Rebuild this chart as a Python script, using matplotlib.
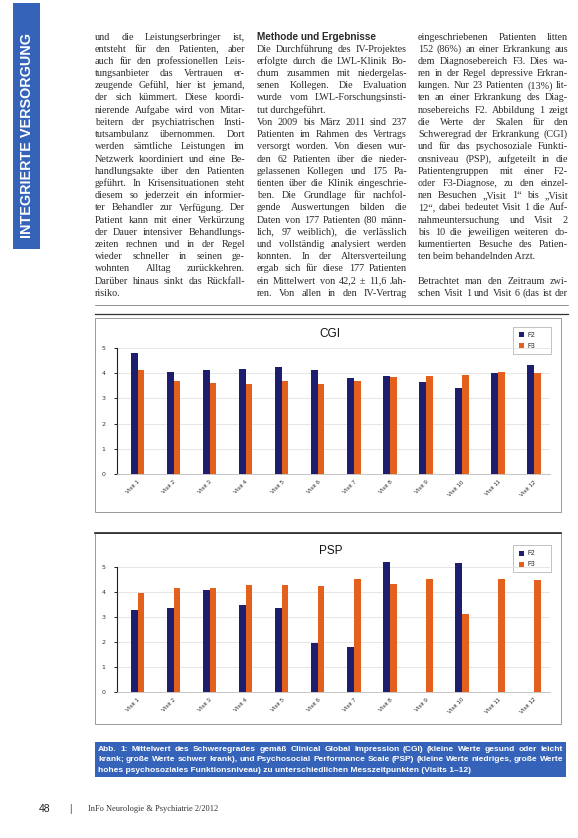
"""
Magazinseite: CGI / PSP Mittelwerte je Visit (F2 vs. F3)
"""

import matplotlib.pyplot as plt
from matplotlib.patches import Rectangle
from matplotlib.font_manager import FontProperties
import numpy as np

# Daten
visits = ['Visit 1', 'Visit 2', 'Visit 3', 'Visit 4', 'Visit 5', 'Visit 6',
          'Visit 7', 'Visit 8', 'Visit 9', 'Visit 10', 'Visit 11', 'Visit 12']
cgi_f2 = [4.81, 4.05, 4.11, 4.17, 4.25, 4.11, 3.80, 3.89, 3.64, 3.40, 4.01, 4.31]
cgi_f3 = [4.13, 3.70, 3.62, 3.56, 3.69, 3.58, 3.70, 3.84, 3.90, 3.94, 4.05, 4.02]
psp_f2 = [3.27, 3.33, 4.05, 3.45, 3.35, 1.96, 1.80, 5.19, np.nan, 5.13, np.nan, np.nan]
psp_f3 = [3.93, 4.13, 4.16, 4.27, 4.27, 4.24, 4.49, 4.29, 4.49, 3.09, 4.49, 4.47]
groups = ['F2', 'F3']

navy = '#1d1f6e'
orange = '#e4601d'
blue = '#3563b9'
ink = '#2a2a2a'
serif = ['Liberation Serif', 'DejaVu Serif']
sans = ['Liberation Sans', 'DejaVu Sans']

W, H = 578, 838
fig = plt.figure(figsize=(W / 100, H / 100), dpi=100)
page = fig.add_axes([0, 0, 1, 1])
page.set_xlim(0, W)
page.set_ylim(H, 0)
page.axis('off')
renderer = fig.canvas.get_renderer()


def px_axes(x0, y0, x1, y1):
    return fig.add_axes([x0 / W, 1 - y1 / H, (x1 - x0) / W, (y1 - y0) / H])


def text_width(s, fp):
    w, h, d = renderer.get_text_width_height_descent(s, fp, ismath=False)
    return w


def justified(x0, y, line, width, fp, color, justify=True):
    words = line.split(' ')
    if not justify or len(words) < 2:
        page.text(x0, y, line, fontproperties=fp, va='center', color=color)
        return
    widths = [text_width(w, fp) for w in words]
    gap = (width - sum(widths)) / (len(words) - 1)
    x = x0
    for w, wd in zip(words, widths):
        page.text(x, y, w, fontproperties=fp, va='center', color=color)
        x += wd + gap


# Seitenleiste
page.add_patch(Rectangle((13, 3), 27, 246, facecolor=blue, edgecolor='none'))
page.text(27, 136, 'INTEGRIERTE VERSORGUNG', rotation=90, ha='center', va='center',
          color='white', fontsize=10.4, weight='bold', family=sans)

# Textspalten
col1 = [
    'und die Leistungserbringer ist,',
    'entsteht für den Patienten, aber',
    'auch für den professionellen Leis-',
    'tungsanbieter das Vertrauen er-',
    'zeugende Gefühl, hier ist jemand,',
    'der sich kümmert. Diese koordi-',
    'nierende Aufgabe wird von Mitar-',
    'beitern der psychiatrischen Insti-',
    'tutsambulanz übernommen. Dort',
    'werden sämtliche Leistungen im',
    'Netzwerk koordiniert und eine Be-',
    'handlungsakte über den Patienten',
    'geführt. In Krisensituationen steht',
    'diesem so jederzeit ein informier-',
    'ter Behandler zur Verfügung. Der',
    'Patient kann mit einer Verkürzung',
    'der Dauer intensiver Behandlungs-',
    'zeiten rechnen und in der Regel',
    'wieder schneller in seinen ge-',
    'wohnten Alltag zurückkehren.',
    'Darüber hinaus sinkt das Rückfall-',
    'risiko.',
]
col2 = [
    'Die Durchführung des IV-Projektes',
    'erfolgte durch die LWL-Klinik Bo-',
    'chum zusammen mit niedergelas-',
    'senen Kollegen. Die Evaluation',
    'wurde vom LWL-Forschungsinsti-',
    'tut durchgeführt.',
    'Von 2009 bis März 2011 sind 237',
    'Patienten im Rahmen des Vertrags',
    'versorgt worden. Von diesen wur-',
    'den 62 Patienten über die nieder-',
    'gelassenen Kollegen und 175 Pa-',
    'tienten über die Klinik eingeschrie-',
    'ben. Die Grundlage für nachfol-',
    'gende Auswertungen bilden die',
    'Daten von 177 Patienten (80 männ-',
    'lich, 97 weiblich), die verlässlich',
    'und vollständig analysiert werden',
    'konnten. In der Altersverteilung',
    'ergab sich für diese 177 Patienten',
    'ein Mittelwert von 42,2 ± 11,6 Jah-',
    'ren. Von allen in den IV-Vertrag',
]
col3 = [
    'eingeschriebenen Patienten litten',
    '152 (86%) an einer Erkrankung aus',
    'dem Diagnosebereich F3. Dies wa-',
    'ren in der Regel depressive Erkran-',
    'kungen. Nur 23 Patienten (13%) lit-',
    'ten an einer Erkrankung des Diag-',
    'nosebereichs F2. Abbildung 1 zeigt',
    'die Werte der Skalen für den',
    'Schweregrad der Erkrankung (CGI)',
    'und für das psychosoziale Funkti-',
    'onsniveau (PSP), aufgeteilt in die',
    'Patientengruppen mit einer F2-',
    'oder F3-Diagnose, zu den einzel-',
    'nen Besuchen „Visit 1“ bis „Visit',
    '12“, dabei bedeutet Visit 1 die Auf-',
    'nahmeuntersuchung und Visit 2',
    'bis 10 die jeweiligen weiteren do-',
    'kumentierten Besuche des Patien-',
    'ten beim behandelnden Arzt.',
    '',
    'Betrachtet man den Zeitraum zwi-',
    'schen Visit 1 und Visit 6 (das ist der',
]
para_ends = {'risiko.', 'tut durchgeführt.', 'ten beim behandelnden Arzt.'}

body = FontProperties(family=serif, size=7.3)
top, lh, colw = 37, 12.2, 150
for i, line in enumerate(col1):
    justified(95, top + i * lh, line, colw, body, ink, line not in para_ends)
page.text(257, top, 'Methode und Ergebnisse', fontsize=7.2, family=sans, weight='bold',
          va='center', color=ink)
for i, line in enumerate(col2):
    justified(257, top + (i + 1) * lh, line, colw, body, ink, line not in para_ends)
for i, line in enumerate(col3):
    if line:
        justified(418, top + i * lh, line, colw, body, ink, line not in para_ends)

# Trennlinien und Rahmen
page.plot([95, 568], [305, 305], color='#666666', lw=0.5)
page.plot([95, 568], [314, 314], color='#333333', lw=0.9)
page.add_patch(Rectangle((95, 318), 466, 194, facecolor='none', edgecolor='#999999', lw=0.7))
page.add_patch(Rectangle((95, 533), 466, 191, facecolor='none', edgecolor='#999999', lw=0.7))
page.plot([95, 561], [533, 533], color='#222222', lw=1.2)


def bar_panel(box, f2, f3, title, title_xy, legend_xy):
    ax = px_axes(*box)
    x = np.arange(len(visits))
    w = 0.19
    ax.bar(x - w / 2, f2, w, color=navy, label=groups[0], clip_on=False)
    ax.bar(x + w / 2, f3, w, color=orange, label=groups[1], clip_on=False)
    ax.set_xlim(-0.57, 11.45)
    ax.set_ylim(0, 5)
    ax.set_yticks(range(6))
    ax.set_xticks(x)
    ax.set_xticklabels(visits, rotation=45, ha='right', rotation_mode='anchor',
                       fontsize=4.5, family=sans, color='#333333')
    ax.tick_params(axis='y', labelsize=4.5, length=2.5, width=0.6, pad=6, labelcolor='#333333')
    ax.tick_params(axis='x', length=0, pad=4)
    ax.yaxis.grid(True, color='#e2e2e2', lw=0.6)
    ax.set_axisbelow(True)
    for s in ['top', 'right']:
        ax.spines[s].set_visible(False)
    ax.spines['left'].set_color('#222222')
    ax.spines['left'].set_linewidth(0.8)
    ax.spines['bottom'].set_color('#bbbbbb')
    ax.spines['bottom'].set_linewidth(0.6)
    ax.patch.set_alpha(0)

    page.text(title_xy[0], title_xy[1], title, fontsize=8.5, family=sans,
              ha='center', va='center', color='#111111')
    lx, ly = legend_xy
    page.add_patch(Rectangle((lx, ly), 38, 27, facecolor='white', edgecolor='#aaaaaa', lw=0.5))
    for j, (g, c) in enumerate(zip(groups, [navy, orange])):
        yy = ly + 8 + j * 11
        page.add_patch(Rectangle((lx + 6, yy - 2.5), 5, 5, facecolor=c, edgecolor='none'))
        page.text(lx + 14, yy, g, fontsize=4.8, family=sans, va='center', color='#222222')
    return ax


bar_panel((117, 348, 550, 474), cgi_f2, cgi_f3, 'CGI', (330, 334), (513, 327))
bar_panel((117, 566.7, 550, 691.7), psp_f2, psp_f3, 'PSP', (331, 551), (513, 545))

# Bildunterschrift
page.add_patch(Rectangle((95, 742), 471, 35, facecolor=blue, edgecolor='none'))
caption = [
    'Abb. 1: Mittelwert des Schweregrades gemäß Clinical Global Impression (CGI) (kleine Werte gesund oder leicht',
    'krank; große Werte schwer krank), und Psychosocial Performance Scale (PSP) (kleine Werte niedriges, große Werte',
    'hohes psychosoziales Funktionsniveau) zu unterschiedlichen Messzeitpunkten (Visits 1–12)',
]
cap_fp = FontProperties(family=sans, size=6.0, weight='bold')
for i, line in enumerate(caption):
    justified(98, 749 + i * 10.5, line, 465, cap_fp, 'white', i < len(caption) - 1)

# Fußzeile
page.text(45, 809, '48', fontsize=7.5, family=sans, va='center', ha='center', color='#222222')
page.text(70, 809, '|', fontsize=7, family=sans, va='center', ha='center', color='#444444')
page.text(88, 809, 'InFo Neurologie & Psychiatrie 2/2012', fontsize=6, family=serif,
          va='center', color='#333333')

fig.savefig('out.png', dpi=100, facecolor='white')
